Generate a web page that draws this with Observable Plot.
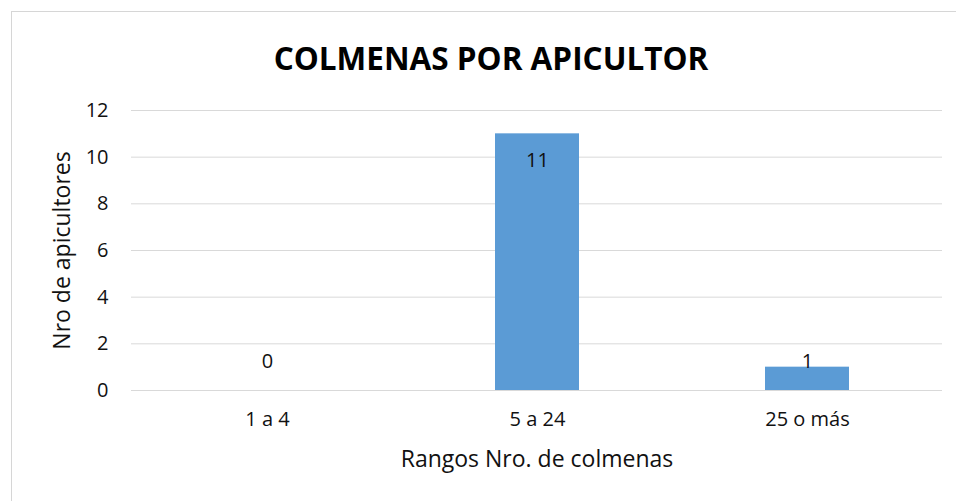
<!DOCTYPE html>
<html>
<head>
<meta charset="utf-8">
<script src="https://cdn.jsdelivr.net/npm/d3@7"></script>
<script src="https://cdn.jsdelivr.net/npm/@observablehq/plot@0.6"></script>
<style>
  html, body { margin: 0; padding: 0; background: #fff; }
  #wrap { position: relative; width: 956px; height: 501px; overflow: hidden; font-family: "Open Sans", sans-serif; }
  #border { position: absolute; left: 11px; top: 11px; width: 960px; height: 500px; border-left: 1px solid #d6d6d6; border-top: 1px solid #d6d6d6; }
  #title { position: absolute; left: 0; top: 37px; width: 982px; text-align: center; font-weight: 700; font-size: 31.5px; color: #000; line-height: 42px; }
  #chart { position: absolute; left: 0; top: 0; }
</style>
</head>
<body>
<div id="wrap">
  <div id="border"></div>
  <div id="title">COLMENAS POR APICULTOR</div>
  <div id="chart"></div>
</div>
<script>
const categories = ["1 a 4", "5 a 24", "25 o más"];
const values = [0, 11, 1];
const yTicks = [0, 2, 4, 6, 8, 10, 12];
const xLabel = "Rangos Nro. de colmenas";
const yLabel = "Nro de apicultores";

const data = categories.map((c, i) => ({ cat: c, val: values[i] }));

const chart = Plot.plot({
  width: 956,
  height: 501,
  marginTop: 110,
  marginBottom: 111,
  marginLeft: 131,
  marginRight: 14,
  style: { fontFamily: "Open Sans, sans-serif", fontSize: "20px", color: "#111", background: "transparent" },
  x: { domain: categories, paddingInner: 0.69, paddingOuter: 0.345, label: null, axis: null },
  y: { domain: [0, 12], label: null, axis: null },
  marks: [
    Plot.ruleY(yTicks, { stroke: "#d9d9d9", strokeWidth: 1 }),
    Plot.barY(data, { x: "cat", y: "val", fill: "#5b9bd5" }),
    Plot.text(yTicks, { y: d => d, frameAnchor: "left", textAnchor: "end", dx: -23, text: d => String(d), fontSize: 20, fill: "#111" }),
    Plot.text(categories, { x: d => d, frameAnchor: "bottom", dy: 35, text: d => d, fontSize: 20, fill: "#111" }),
    Plot.text(data.filter(d => d.val >= 2), { x: "cat", y: "val", text: d => String(d.val), dy: 27, fontSize: 20, fill: "#111" }),
    Plot.text(data.filter(d => d.val < 2), { x: "cat", frameAnchor: "bottom", text: d => String(d.val), dy: -23, fontSize: 20, fill: "#111" }),
    Plot.text([xLabel], { frameAnchor: "bottom", dy: 76, fontSize: 23, fill: "#111" }),
    Plot.text([yLabel], { frameAnchor: "left", textAnchor: "middle", rotate: -90, dx: -69, fontSize: 23, fill: "#111" })
  ]
});
document.getElementById("chart").appendChild(chart);
</script>
</body>
</html>
